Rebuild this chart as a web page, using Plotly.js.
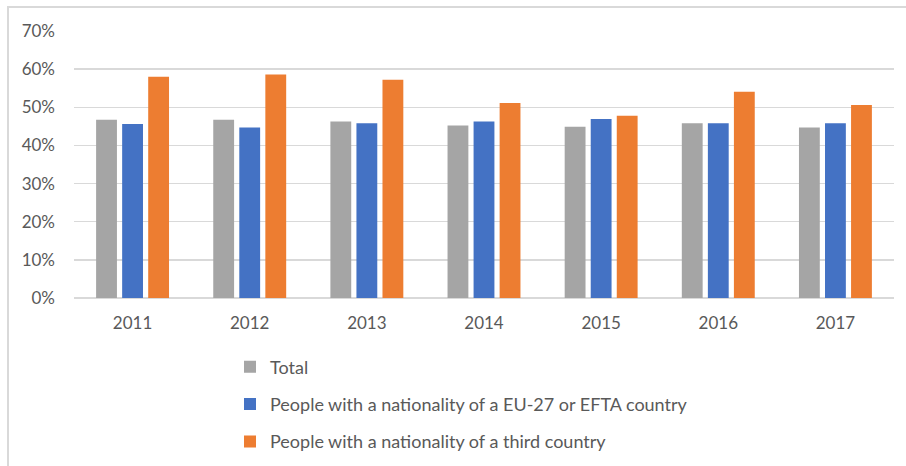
<!DOCTYPE html>
<html>
<head>
<meta charset="utf-8">
<script src="https://cdn.plot.ly/plotly-3.0.1.min.js"></script>
<style>
  html, body { margin: 0; padding: 0; background: #ffffff; }
  #wrap { position: relative; width: 906px; height: 466px; overflow: hidden; }
  #frame { position: absolute; left: 7px; top: 6px; width: 906px; height: 466px;
           border-left: 2px solid #d9d9d9; border-top: 2px solid #d9d9d9; box-sizing: border-box; }
  #chart { position: absolute; left: 0; top: 0; width: 906px; height: 466px; }
</style>
</head>
<body>
<div id="wrap">
  <div id="frame"></div>
  <div id="chart"></div>
</div>
<script>
const years = ['2011', '2012', '2013', '2014', '2015', '2016', '2017'];
const total = [0.467, 0.467, 0.463, 0.452, 0.449, 0.458, 0.447];
const euEfta = [0.456, 0.447, 0.458, 0.463, 0.469, 0.458, 0.458];
const thirdCountry = [0.580, 0.586, 0.572, 0.511, 0.478, 0.541, 0.506];
const seriesNames = ['Total', 'People with a nationality of a EU-27 or EFTA country', 'People with a nationality of a third country'];
const colors = ['#a5a5a5', '#4472c4', '#ed7d31'];
const yTicks = [0, 0.1, 0.2, 0.3, 0.4, 0.5, 0.6, 0.7];

const allSeries = [total, euEfta, thirdCountry];
const traces = allSeries.map((vals, i) => ({
  type: 'bar',
  name: seriesNames[i],
  x: years,
  y: vals,
  marker: { color: colors[i], line: { width: 0 } },
  legendgroup: 'g' + i,
  hoverinfo: 'x+y+name'
}));

const layout = {
  width: 906,
  height: 466,
  margin: { l: 74, r: 12, t: 31, b: 168, autoexpand: false },
  paper_bgcolor: 'rgba(0,0,0,0)',
  plot_bgcolor: 'rgba(0,0,0,0)',
  font: { family: 'Lato, "Open Sans", sans-serif', size: 17, color: '#595959' },
  barmode: 'group',
  bargap: 0.333,
  bargroupgap: 0.2,
  showlegend: true,
  legend: {
    x: (230 - 74) / 820,
    y: -0.189,
    xanchor: 'left',
    yanchor: 'top',
    orientation: 'v',
    tracegroupgap: 11,
    traceorder: 'grouped',
    itemwidth: 30,
    font: { size: 18, color: '#595959' },
    bgcolor: 'rgba(0,0,0,0)'
  },
  xaxis: {
    type: 'category',
    showgrid: false,
    showline: false,
    zeroline: false,
    ticks: '',
    ticklabelstandoff: 13,
    tickfont: { size: 17, color: '#595959' }
  },
  yaxis: {
    range: [0, 0.7],
    tickvals: yTicks,
    tickformat: '.0%',
    showgrid: true,
    gridcolor: '#d9d9d9',
    gridwidth: 1.5,
    zeroline: true,
    zerolinecolor: '#d9d9d9',
    zerolinewidth: 1.5,
    showline: false,
    ticks: '',
    ticklabelstandoff: 18,
    tickfont: { size: 17, color: '#595959' }
  }
};

Plotly.newPlot('chart', traces, layout, { displayModeBar: false, staticPlot: true });
</script>
</body>
</html>
